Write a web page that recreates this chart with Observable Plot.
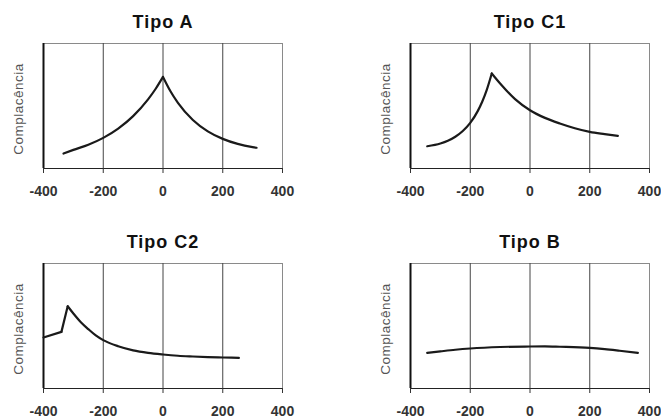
<!DOCTYPE html>
<html><head><meta charset="utf-8">
<script src="https://cdn.jsdelivr.net/npm/d3@7"></script>
<script src="https://cdn.jsdelivr.net/npm/@observablehq/plot@0.6"></script>
<style>
html,body{margin:0;padding:0;background:#fff;}
#wrap{position:relative;width:661px;height:419px;overflow:hidden;background:#fff;}
#wrap svg{position:absolute;}
</style></head><body><div id="wrap"></div>
<script>
const titles = ["Tipo A", "Tipo C1", "Tipo C2", "Tipo B"];
const xTicks = [-400, -200, 0, 200, 400];
const gridX = [-200, 0, 200];
const yLabel = "Complacência";

// Tipo A
const aPressure = [-333, -300, -250, -200, -150, -100, -50, -25, 0, 0, 25, 50, 100, 150, 200, 250, 300, 313];
const aCompliance = [0.12, 0.149, 0.19, 0.245, 0.319, 0.419, 0.553, 0.636, 0.733, 0.733, 0.618, 0.525, 0.388, 0.297, 0.237, 0.197, 0.171, 0.166];
const aSegment = ["e","e","e","e","e","e","e","e","e","d","d","d","d","d","d","d","d","d"];

// Tipo C1
const c1Pressure = [-344, -300, -275, -250, -225, -200, -175, -160, -145, -128, -128, -100, -50, 0, 50, 100, 150, 200, 250, 294];
const c1Compliance = [0.178, 0.2, 0.222, 0.254, 0.3, 0.365, 0.459, 0.534, 0.627, 0.76, 0.76, 0.68, 0.555, 0.466, 0.405, 0.36, 0.322, 0.293, 0.275, 0.261];
const c1Segment = ["e","e","e","e","e","e","e","e","e","e","d","d","d","d","d","d","d","d","d","d"];

// Tipo C2
const c2Pressure = [-400, -340, -340, -319, -319, -300, -275, -250, -225, -200, -150, -100, -50, 0, 50, 100, 150, 200, 254];
const c2Compliance = [0.408, 0.453, 0.453, 0.658, 0.658, 0.6, 0.53, 0.475, 0.425, 0.387, 0.338, 0.305, 0.285, 0.272, 0.262, 0.256, 0.251, 0.248, 0.245];
const c2Segment = ["b","b","s","s","d","d","d","d","d","d","d","d","d","d","d","d","d","d","d"];

// Tipo B
const bPressure = [-344, -300, -250, -200, -100, 0, 50, 100, 200, 250, 300, 361];
const bCompliance = [0.285, 0.297, 0.31, 0.32, 0.332, 0.336, 0.337, 0.334, 0.325, 0.315, 0.302, 0.285];
const bSegment = bPressure.map(() => "u");

const wrap = document.getElementById("wrap");

function panel(title, xs, ys, segs, left, top) {
  const rows = xs.map((x, i) => ({pressao: x, comp: ys[i], seg: segs[i]}));
  const svg = Plot.plot({
    width: 330, height: 200,
    marginLeft: 43, marginRight: 48, marginTop: 43, marginBottom: 32,
    style: {fontFamily: "'Liberation Sans', Arial, Helvetica, sans-serif", background: "transparent", color: "#333", overflow: "visible"},
    x: {domain: [-400, 400], axis: null, label: null},
    y: {domain: [0, 1], axis: null, label: null},
    marks: [
      Plot.frame({stroke: "#8a8a8a", strokeWidth: 1}),
      Plot.ruleX(gridX, {stroke: "#444", strokeWidth: 1}),
      Plot.ruleY([0], {stroke: "#222", strokeWidth: 1.2}),
      Plot.ruleX([-400], {stroke: "#111", strokeWidth: 2}),
      Plot.axisX({ticks: xTicks, tickFormat: () => "", tickSize: 5, label: null}),
      Plot.text(xTicks, {x: d => d, text: d => `${d}`, frameAnchor: "bottom", lineAnchor: "top", dy: 18, fontSize: 14, fontWeight: "bold", fill: "#333"}),
      Plot.line(rows, {x: "pressao", y: "comp", z: "seg", curve: "monotone-x", stroke: "#1a1a1a", strokeWidth: 2.2}),
      Plot.text([title], {text: d => d, frameAnchor: "top", lineAnchor: "middle", dy: -21, fontSize: 18, fontWeight: "bold", fill: "#111"}),
      Plot.text([yLabel], {text: d => d, frameAnchor: "left", textAnchor: "middle", lineAnchor: "middle", dx: -25, dy: 3, rotate: -90, fontSize: 13.5, fill: "#555"})
    ]
  });
  svg.querySelectorAll("text").forEach(t => {
    const s = t.textContent;
    if (titles.includes(s)) t.style.letterSpacing = "1px";
    else if (s === yLabel) t.style.letterSpacing = "0.5px";
  });
  svg.style.left = left + "px";
  svg.style.top = top + "px";
  wrap.appendChild(svg);
}

panel(titles[0], aPressure, aCompliance, aSegment, 0, 0);
panel(titles[1], c1Pressure, c1Compliance, c1Segment, 367, 0);
panel(titles[2], c2Pressure, c2Compliance, c2Segment, 0, 220);
panel(titles[3], bPressure, bCompliance, bSegment, 367, 220);
</script>
</body></html>
